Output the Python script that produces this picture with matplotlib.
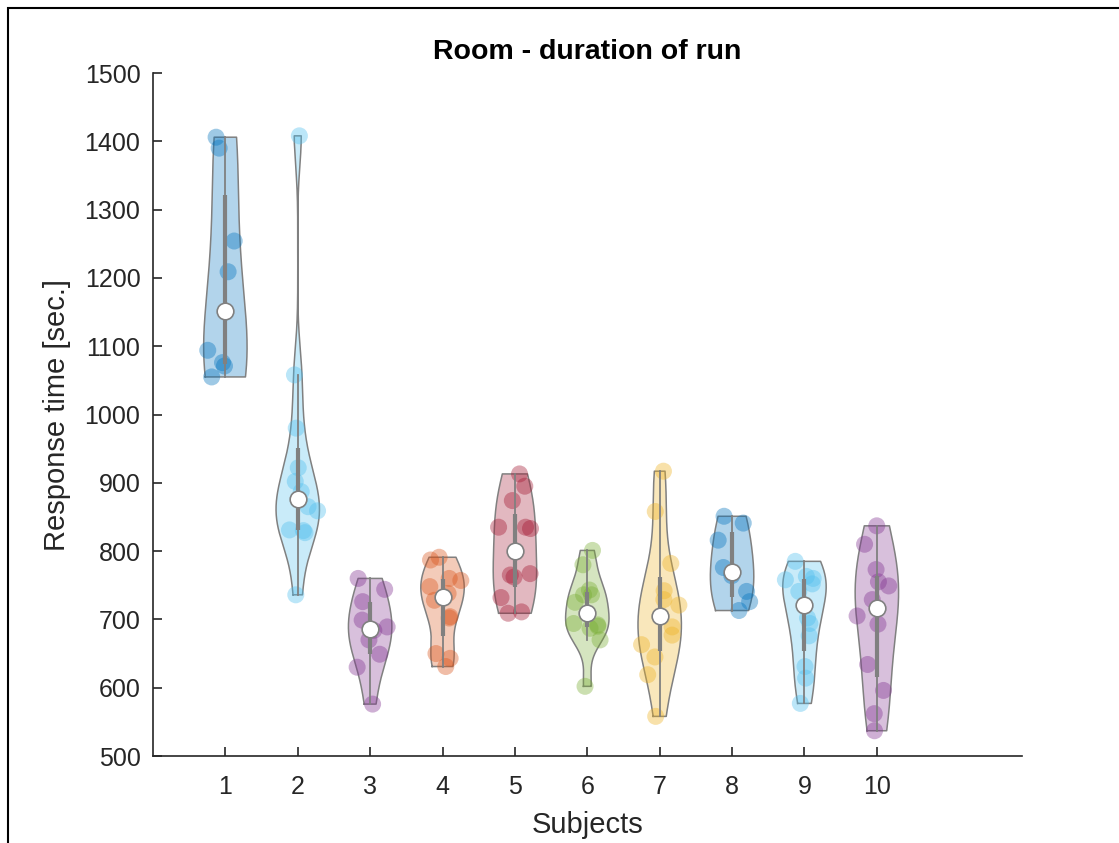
import numpy as np
import matplotlib
matplotlib.use("Agg")
import matplotlib.pyplot as plt
from matplotlib.patches import Rectangle

plt.rcParams['font.family'] = ['Liberation Sans', 'DejaVu Sans']

# response times (sec.) per subject
subj1 = [1406, 1390, 1254, 1209, 1094, 1076, 1071, 1055]
subj2 = [1408, 1058, 980, 922, 902, 887, 865, 859, 831, 830, 827, 736]
subj3 = [760, 744, 726, 699, 689, 684, 670, 649, 630, 576]
subj4 = [791, 787, 760, 757, 748, 738, 728, 704, 702, 650, 643, 631]
subj5 = [913, 895, 874, 835, 833, 835, 767, 765, 762, 732, 711, 709]
subj6 = [801, 780, 743, 736, 736, 725, 694, 692, 690, 687, 670, 602]
subj7 = [917, 858, 782, 742, 729, 721, 689, 677, 663, 645, 619, 558]
subj8 = [851, 841, 816, 776, 764, 741, 726, 713]
subj9 = [785, 763, 760, 758, 752, 741, 702, 694, 676, 631, 614, 577]
subj10 = [837, 810, 773, 755, 749, 729, 705, 693, 634, 596, 562, 537]

subjects = ['1', '2', '3', '4', '5', '6', '7', '8', '9', '10']
all_data = [subj1, subj2, subj3, subj4, subj5, subj6, subj7, subj8, subj9, subj10]

colors = ['#0072BD', '#4DBEEE', '#7E2F8E', '#D95319', '#A2142F',
          '#77AC30', '#EDB120', '#0072BD', '#4DBEEE', '#7E2F8E']
grey = (0.5, 0.5, 0.5)
half_width = 0.3


def kde(data, grid):
    # ksdensity-like default bandwidth (robust sigma)
    n = len(data)
    mad = np.median(np.abs(data - np.median(data)))
    sig = mad / 0.6745
    bw = sig * (4.0 / (3.0 * n)) ** 0.2
    z = (grid[:, None] - data[None, :]) / bw
    return np.exp(-0.5 * z ** 2).sum(axis=1) / (n * bw * np.sqrt(2 * np.pi))


fig = plt.figure(figsize=(11.19, 8.43), dpi=100)
ax = fig.add_axes([0.1367, 0.1032, 0.7763, 0.8102])

rng = np.random.default_rng(3)

for i, (vals, col) in enumerate(zip(all_data, colors)):
    pos = i + 1
    d = np.array(vals, dtype=float)
    grid = np.linspace(d.min(), d.max(), 300)
    dens = kde(d, grid)
    w = dens * half_width / dens.max()

    xs = np.concatenate([pos - w, (pos + w)[::-1]])
    ys = np.concatenate([grid, grid[::-1]])
    ax.fill(xs, ys, facecolor=col, alpha=0.3, edgecolor='none', zorder=1)
    ax.plot(np.append(xs, xs[0]), np.append(ys, ys[0]), color=grey, lw=1.1, zorder=2)

    # jittered points, spread by local density
    strength = np.interp(d, grid, w)
    jit = 2 * (rng.random(len(d)) - 0.5)
    ax.scatter(pos + jit * strength, d, s=150, color=col, alpha=0.38,
               edgecolors='none', zorder=3)

    q1, med, q3 = np.percentile(d, [25, 50, 75], method='hazen')
    iqr = q3 - q1
    lo = d[d > q1 - 1.5 * iqr].min()
    hi = d[d < q3 + 1.5 * iqr].max()
    ax.plot([pos, pos], [lo, hi], color=grey, lw=1.3, zorder=4)
    ax.plot([pos, pos], [q1, q3], color=grey, lw=3, solid_capstyle='butt', zorder=4)
    ax.plot(pos, med, 'o', ms=12, mfc='white', mec=grey, mew=1.2, zorder=5)

ax.set_xlim(0, 12)
ax.set_ylim(500, 1500)
ax.set_xticks(range(1, 11))
ax.set_xticklabels(subjects)
ax.set_yticks(range(500, 1501, 100))
ax.tick_params(direction='in', length=6.5, width=1.2, colors='#262626',
               labelsize=18)
ax.tick_params(axis='x', pad=14)
ax.tick_params(axis='y', pad=9)
for s in ['top', 'right']:
    ax.spines[s].set_visible(False)
for s in ['left', 'bottom']:
    ax.spines[s].set_linewidth(1.2)
    ax.spines[s].set_color('#262626')

ax.set_xlabel('Subjects', fontsize=21, color='#262626', labelpad=8)
ax.set_ylabel('Response time [sec.]', fontsize=21, color='#262626', labelpad=10)
ax.set_title('Room - duration of run', fontsize=20.5, fontweight='bold', pad=10)

# figure border (cropped on the right/bottom in the reference)
fig.patches.append(Rectangle((8 / 1119, -0.1), 1.2, 0.1 + (843 - 8) / 843,
                             transform=fig.transFigure, fill=False,
                             edgecolor='black', lw=1.5))

fig.savefig('out.png', dpi=100)
